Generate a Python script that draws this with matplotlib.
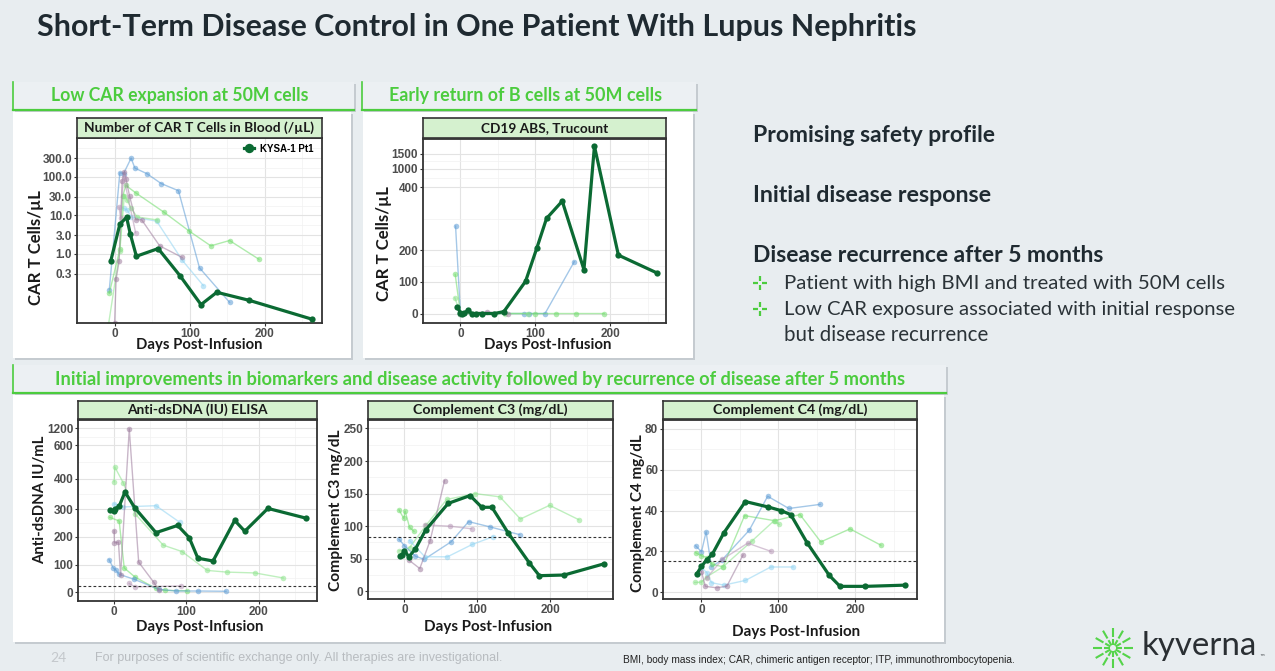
import numpy as np
import matplotlib.pyplot as plt
from matplotlib.patches import Rectangle
from matplotlib.ticker import NullFormatter

W, H = 1275, 671

# ---- values (days post-infusion, value) ----
# main patient KYSA-1 Pt1
car_days = [-5, 7, 16, 21, 29, 58, 87, 115, 136, 179, 263]
car_vals = [0.66, 5.8, 8.8, 3.2, 0.86, 1.36, 0.27, 0.048, 0.10, 0.062, 0.02]
car_others = {
    'blue': ([-7, 7, 12, 22, 27, 43, 62, 85, 113, 153],
             [0.117, 126, 120, 300, 166, 119, 66, 43, 0.43, 0.055]),
    'sky': ([12, 17, 22, 56, 90, 118], [15, 13.5, 9, 7, 0.68, 0.15]),
    'green': ([-7, 7, 11, 15, 28, 66, 99, 128, 153, 192],
              [0.095, 1.3, 32, 59, 38, 11.8, 3.9, 1.6, 2.2, 0.72]),
    'lime': ([-8, 7, 13, 17, 22, 30, 57], [0.015, 1.2, 32, 24, 15, 9.0, 7.5]),
    'purple': ([0, 2, 6, 10, 13, 15, 20, 28, 36, 60, 90],
               [0.016, 0.22, 0.63, 75, 135, 89, 31, 7.6, 7.6, 1.6, 0.8]),
    'mauve': ([6, 8, 12, 28], [16, 8.5, 100, 3.5]),
}

cd19_days = [-4, 0, 2, 5, 10, 15, 21, 29, 45, 58, 87, 102, 115, 136, 165, 179, 211, 263]
cd19_vals = [21, 2, 0, 1, 10, 0, 0, 0, 0, 6, 102, 207, 301, 356, 139, 1750, 185, 128]
cd19_others = {
    'blue': ([-6.5, 0, 85, 92, 113, 152], [277, 0, 0, 0, 0, 164]),
    'green': ([-7, 0, 100, 127, 154, 192], [124, 0, 0, 0, 0, 0]),
    'lime': ([-7.5, 0, 60, 90], [50, 0, 0, 0]),
    'purple': ([0, 35, 63], [0, 5, 0]),
}

dsdna_days = [-5, 0, 1, 7, 15, 29, 58, 88, 104, 116, 137, 167, 181, 213, 266]
dsdna_vals = [297, 292, 300, 309, 356, 303, 215, 241, 197, 123, 113, 259, 220, 302, 267]
dsdna_others = {
    'green': ([-6, 7, 14, 29, 58, 70, 101], [270, 257, 88, 55, 14, 7, 6]),
    'lime': ([0, 1, 13, 29, 68, 94, 129, 156, 195, 234],
             [390, 469, 385, 283, 170, 147, 79, 73, 70, 52]),
    'sky': ([0, 13, 58, 91], [317, 307, 311, 252]),
    'blue': ([-7, -1, 2, 7, 28, 62, 86, 116, 155], [118, 87, 82, 65, 47, 11, 5, 5, 4]),
    'purple': ([0, 0.5, 6, 9, 21, 34, 55, 62], [222, 178, 181, 62, 1180, 109, 36, 8]),
    'mauve': ([21, 29, 92], [32, 20, 23]),
}
dsdna_cutoff = 24

c3_days = [-6, -3, 0, 6, 15, 29, 60, 90, 106, 120, 142, 171, 185, 219, 273]
c3_vals = [54, 56, 62.5, 53, 65, 94, 135, 147, 129, 129, 90, 44, 24, 25, 42]
c3_others = {
    'green': ([-7.5, -1, 1, 7, 13], [125, 112, 123, 98, 92]),
    'lime': ([-7.5, 7, 30, 58, 97, 131, 159, 199, 239],
             [62, 67, 102, 141, 150, 145, 111, 132, 110]),
    'blue': ([-7.5, 0, 15, 27, 64, 88, 117, 158], [80, 70, 54, 49, 76, 107, 99, 87]),
    'sky': ([7, 28, 59, 93, 122], [78, 53, 53, 72, 84]),
    'purple': ([6, 21, 35, 55], [48, 35, 77, 170]),
    'mauve': ([28, 62, 92], [102, 100, 96]),
}
c3_cutoff = 83

c4_days = [-6, 0, 7, 14, 29, 57, 87, 103, 116, 137, 166, 180, 213, 265]
c4_vals = [9, 12.6, 15.9, 18.5, 29, 44.4, 41.7, 40, 38, 24.3, 8.2, 2.8, 2.8, 3.4]
c4_others = {
    'blue': ([-7.6, 0, 6, 13, 27, 62, 86, 113.5, 154],
             [22.7, 19.8, 29.5, 12.4, 15.9, 30.3, 47, 41, 43]),
    'green': ([-7.6, 0, 7, 14, 28, 56, 95, 128, 155, 193, 233],
              [19.3, 17.8, 16.9, 13.6, 12.4, 37.5, 35, 38, 24.6, 31, 23]),
    'lime': ([-8.8, 0, 7, 28, 66, 94, 101], [4.7, 4.9, 7.5, 12.4, 25.2, 34.9, 33.2]),
    'sky': ([0, 7, 13, 29, 57, 90, 119], [12, 9.5, 4.6, 3.4, 5.7, 12.3, 12.3]),
    'purple': ([0, 5, 20, 33, 54], [10, 2.8, 2.1, 2.9, 18.2]),
    'mauve': ([7, 27, 60, 90], [7, 16, 24, 20]),
}
c4_cutoff = 15

# ---- styling ----
bg = '#e8edf0'
dark = '#0b6a33'
green_txt = '#4ccc3e'
strip_green = '#d5f1cf'
series_colors = {'blue': '#5b9bd5', 'sky': '#8fd3f2', 'green': '#6fdc6a',
                 'lime': '#8be38a', 'purple': '#9c7a9c', 'mauve': '#b595b5'}
slide_font = ['Lato', 'DejaVu Sans']
tick_font = ['Liberation Sans', 'DejaVu Sans']

fig = plt.figure(figsize=(W / 100, H / 100), dpi=100)
fig.patch.set_facecolor(bg)
renderer = fig.canvas.get_renderer()


def rect(x0, y0, x1, y1):
    return [x0 / W, 1 - y1 / H, (x1 - x0) / W, (y1 - y0) / H]


def fit(t, size):
    # scale a text so its width (or height when rotated) matches the slide
    bb = t.get_window_extent(renderer)
    cur = bb.height if t.get_rotation() == 90 else bb.width
    t.set_fontsize(t.get_fontsize() * size / cur)
    return t


ax_bg = fig.add_axes([0, 0, 1, 1])
ax_bg.set_xlim(0, W)
ax_bg.set_ylim(H, 0)
ax_bg.axis('off')


def box(x0, y0, x1, y1, fc='white', shadow=True):
    if shadow:
        ax_bg.add_patch(Rectangle((x0 + 2, y0 + 2), x1 - x0, y1 - y0, fc='#c5cbd0', ec='none', zorder=1))
    ax_bg.add_patch(Rectangle((x0, y0), x1 - x0, y1 - y0, fc=fc, ec='none', zorder=2))


def band(x0, y0, x1, y1, text, tx0, tx1):
    box(x0, y0, x1, y1, fc='#ecf0f3')
    ax_bg.plot([x0, x0], [y0, y1], color=green_txt, lw=1.2, zorder=3)
    ax_bg.plot([x0, x1], [y1, y1], color=green_txt, lw=1.6, zorder=3)
    t = ax_bg.text((tx0 + tx1) / 2, (y0 + y1) / 2, text, ha='center', va='center',
                   color=green_txt, fontweight='bold', family=slide_font, fontsize=12, zorder=4)
    fit(t, tx1 - tx0)


# title
fit(ax_bg.text(37, 27, 'Short-Term Disease Control in One Patient With Lupus Nephritis',
               ha='left', va='center', fontweight='bold', color='#1f2a31',
               family=slide_font, fontsize=20), 879)

# panels and header bands
band(13, 82, 354, 110, 'Low CAR expansion at 50M cells', 52, 308)
band(362, 82, 696, 110, 'Early return of B cells at 50M cells', 391, 661)
box(13, 112, 351, 358)
box(363, 112, 693, 358)
band(13, 365, 946, 393, 'Initial improvements in biomarkers and disease activity followed by recurrence of disease after 5 months', 59, 901)
box(13, 395, 944, 642)

# right-hand text
for y, s, x1 in [(135, 'Promising safety profile', 996), (195, 'Initial disease response', 992),
                 (255, 'Disease recurrence after 5 months', 1106)]:
    fit(ax_bg.text(753, y, s, ha='left', va='center', fontweight='bold', color='#1f2a31',
                   family=slide_font, fontsize=15), x1 - 753)
for y, s, x1 in [(283, 'Patient with high BMI and treated with 50M cells', 1222),
                 (309, 'Low CAR exposure associated with initial response', 1234),
                 (335, 'but disease recurrence', 988)]:
    fit(ax_bg.text(784, y, s, ha='left', va='center', color='#2b3338',
                   family=slide_font, fontsize=13), x1 - 784)
for cy in [283, 309]:
    cx = 760
    for a, b in [((cx - 7, cx - 2), (cy, cy)), ((cx + 2, cx + 7), (cy, cy)),
                 ((cx, cx), (cy - 7, cy - 2)), ((cx, cx), (cy + 2, cy + 7))]:
        ax_bg.plot(a, b, color=green_txt, lw=1.6, solid_capstyle='butt', zorder=4)

# footer
ax_bg.text(50, 658, '24', ha='left', va='center', color='#c4c8cc', family=slide_font, fontsize=10)
fit(ax_bg.text(95, 658, 'For purposes of scientific exchange only. All therapies are investigational.',
               ha='left', va='center', color='#b8bcc0',
               family=['Liberation Sans Narrow', 'Liberation Sans', 'DejaVu Sans'], fontsize=8), 408)
fit(ax_bg.text(623, 660, 'BMI, body mass index; CAR, chimeric antigen receptor; ITP, immunothrombocytopenia.',
               ha='left', va='center', color='#222222',
               family=['Liberation Sans Narrow', 'Liberation Sans', 'DejaVu Sans'], fontsize=7), 392)

# logo
lcx, lcy = 1113, 648
for ang in np.arange(0, 360, 30):
    r = np.deg2rad(ang)
    for r0, r1 in [(3, 9), (11, 20)]:
        ax_bg.plot([lcx + r0 * np.cos(r), lcx + r1 * np.cos(r)],
                   [lcy + r0 * np.sin(r), lcy + r1 * np.sin(r)],
                   color='#55d44a', lw=1.5, solid_capstyle='butt', zorder=4)
fit(ax_bg.text(1142, 646, 'kyverna', ha='left', va='center', color='#2a2f33',
               family=slide_font, fontsize=22), 115)
ax_bg.text(1259, 657, '™', ha='left', va='center', color='#2a2f33', fontsize=4)


# ---- charts ----
def finish(ax, strip_px, title, title_w, xlim, ylim, yticks, ylabels, yminor,
           others, days, vals, cutoff=None):
    for name, (d, v) in others.items():
        ax.plot(d, v, '-o', color=series_colors[name], alpha=0.55, lw=1.0, ms=4, mew=0, zorder=2)
    main, = ax.plot(days, vals, '-o', color=dark, lw=2.3, ms=4.5, mew=0, zorder=4)
    if cutoff is not None:
        ax.axhline(cutoff, color='#333333', ls=(0, (2.5, 2)), lw=0.8, zorder=3)
    ax.set_facecolor('white')
    ax.set_xlim(xlim)
    ax.set_ylim(ylim)
    ax.set_xticks([0, 100, 200])
    ax.set_xticks([-50, 50, 150, 250], minor=True)
    ax.set_yticks(yticks, ylabels)
    ax.set_yticks(yminor, minor=True)
    ax.xaxis.set_minor_formatter(NullFormatter())
    ax.yaxis.set_minor_formatter(NullFormatter())
    ax.grid(which='major', color='#e3e3e3', lw=0.8)
    ax.grid(which='minor', color='#f1f1f1', lw=0.5)
    ax.set_axisbelow(True)
    ax.tick_params(which='minor', length=0)
    ax.tick_params(which='major', length=2.5, width=0.8, color='#333333',
                   labelsize=8.5, labelcolor='#4d4d4d', pad=1)
    for lab in ax.get_xticklabels() + ax.get_yticklabels():
        lab.set_fontweight('bold')
        lab.set_family(tick_font)
    for sp in ax.spines.values():
        sp.set_color('#333333')
        sp.set_linewidth(1.3)
    st = fig.add_axes(rect(*strip_px))
    st.set_facecolor(strip_green)
    st.set_xticks([])
    st.set_yticks([])
    for sp in st.spines.values():
        sp.set_color('#333333')
        sp.set_linewidth(1.2)
    fit(st.text(0.5, 0.5, title, ha='center', va='center', transform=st.transAxes,
                fontweight='bold', color='#1a1a1a', family=slide_font, fontsize=9), title_w)
    return main


def axis_labels(xl, yl):
    (x0, x1, y), s = xl, 'Days Post-Infusion'
    fit(ax_bg.text((x0 + x1) / 2, y, s, ha='center', va='center', fontweight='bold',
                   color='#1a1a1a', family=slide_font, fontsize=10, zorder=5), x1 - x0)
    (x, y0, y1), s = yl
    fit(ax_bg.text(x, (y0 + y1) / 2, s, ha='center', va='center', rotation=90, fontweight='bold',
                   color='#1a1a1a', family=slide_font, fontsize=10, zorder=5), y1 - y0)


def piecewise(knots, pos):
    return (lambda v: np.interp(v, knots, pos), lambda p: np.interp(p, pos, knots))


# 1: CAR T cells
ax1 = fig.add_axes(rect(77, 138, 322, 323))
ax1.set_yscale('log')
main1 = finish(ax1, (77, 118, 322, 138), 'Number of CAR T Cells in Blood (/µL)', 229,
               (-20.6, 276), (0.016, 1000),
               [0.3, 1, 3, 10, 30, 100, 300], ['0.3', '1.0', '3.0', '10.0', '30.0', '100.0', '300.0'],
               [0.55, 1.7, 5.5, 17, 55, 170, 550], car_others, car_days, car_vals)
ax1.legend([main1], ['KYSA-1 Pt1'], loc='upper right', bbox_to_anchor=(0.99, 1.0),
           frameon=False, handlelength=1.1, markerscale=1.5,
           borderaxespad=0.2, handletextpad=0.6,
           prop={'family': tick_font, 'weight': 'bold', 'size': 7})
axis_labels((136, 262, 345), ((36, 190, 305), 'CAR T Cells/µL'))

# 2: CD19
ax2 = fig.add_axes(rect(423, 139, 666, 323))
ax2.set_yscale('function', functions=piecewise([-1000, 0, 400, 1000, 1500, 3000],
                                               [-950, 0, 380, 436, 481, 616]))
finish(ax2, (423, 118, 666, 138), 'CD19 ABS, Trucount', 127, (-19, 274.6), (-30, 1990),
       [0, 100, 200, 400, 1000, 1500], ['0', '100', '200', '400', '1000', '1500'],
       [50, 150, 300, 700, 1250], cd19_others, cd19_days, cd19_vals)
axis_labels((484, 611, 345), ((384, 186, 301), 'CAR T Cells/µL'))

# 3: anti-dsDNA
ax3 = fig.add_axes(rect(78, 420, 317, 601))
ax3.set_yscale('function', functions=piecewise([-1000, 0, 300, 400, 600, 1200, 3000],
                                               [-833, 0, 250, 341, 442, 492, 642]))
finish(ax3, (78, 401, 317, 419), 'Anti-dsDNA (IU) ELISA', 140, (-20, 281), (-31, 1500),
       [0, 100, 200, 300, 400, 600, 1200], ['0', '100', '200', '300', '400', '600', '1200'],
       [50, 150, 250, 350, 500, 900], dsdna_others, dsdna_days, dsdna_vals, dsdna_cutoff)
axis_labels((136, 263, 627), ((40, 436, 564), 'Anti-dsDNA IU/mL'))

# 4: C3
ax4 = fig.add_axes(rect(368, 420, 613, 599))
finish(ax4, (368, 401, 613, 419), 'Complement C3 (mg/dL)', 155, (-22, 286), (-11.8, 263),
       [0, 50, 100, 150, 200, 250], ['0', '50', '100', '150', '200', '250'],
       [25, 75, 125, 175, 225], c3_others, c3_days, c3_vals, c3_cutoff)
axis_labels((424, 552, 627), ((336, 430, 591), 'Complement C3 mg/dL'))

# 5: C4
ax5 = fig.add_axes(rect(663, 420, 917, 599))
finish(ax5, (663, 401, 917, 419), 'Complement C4 (mg/dL)', 155, (-22.7, 280), (-3.4, 84.4),
       [0, 20, 40, 60, 80], ['0', '20', '40', '60', '80'],
       [10, 30, 50, 70], c4_others, c4_days, c4_vals, c4_cutoff)
axis_labels((732, 860, 632), ((638, 434, 592), 'Complement C4 mg/dL'))

fig.savefig('out.png', dpi=100, facecolor=fig.get_facecolor())
